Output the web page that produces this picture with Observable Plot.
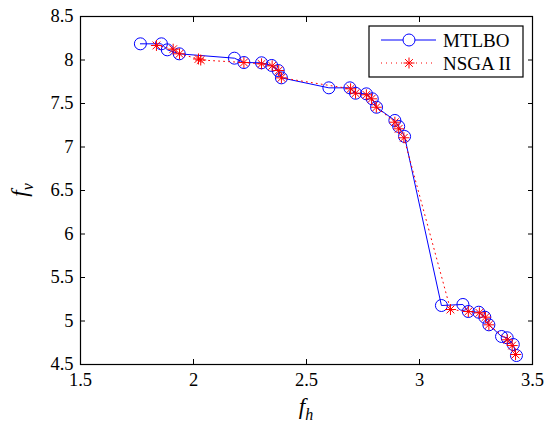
<!DOCTYPE html>
<html><head><meta charset="utf-8">
<script src="https://cdn.jsdelivr.net/npm/d3@7"></script>
<script src="https://cdn.jsdelivr.net/npm/@observablehq/plot@0.6"></script>
<style>body{margin:0;background:#fff} svg text{font-family:"Liberation Serif","Times New Roman","DejaVu Serif",serif !important}</style>
</head><body><div id="chart"></div>
<script>
// MTLBO Pareto front
const mtlboX = [1.765,1.858,1.884,1.937,2.181,2.223,2.301,2.346,2.375,2.389,2.599,2.692,2.717,2.765,2.791,2.810,2.891,2.908,2.934,3.097,3.192,3.216,3.262,3.289,3.307,3.363,3.388,3.415,3.429];
const mtlboY = [8.186,8.186,8.117,8.071,8.021,7.971,7.968,7.937,7.879,7.795,7.680,7.680,7.618,7.611,7.554,7.457,7.305,7.236,7.121,5.178,5.190,5.109,5.101,5.044,4.956,4.822,4.807,4.730,4.603];
// NSGA II Pareto front
const nsgaX = [1.836,1.910,1.938,2.022,2.032,2.223,2.301,2.348,2.377,2.389,2.695,2.717,2.765,2.788,2.809,2.891,2.908,2.931,3.137,3.216,3.265,3.292,3.307,3.388,3.410,3.425];
const nsgaY = [8.167,8.124,8.071,8.012,8.000,7.971,7.956,7.933,7.879,7.795,7.669,7.618,7.600,7.554,7.457,7.285,7.209,7.106,5.132,5.109,5.094,5.044,4.956,4.784,4.718,4.615];
const xTicks = [1.5,2,2.5,3,3.5];
const yTicks = [4.5,5,5.5,6,6.5,7,7.5,8,8.5];
const seriesNames = ["MTLBO","NSGA II"];

const mtlbo = mtlboX.map((x,i)=>({x, y: mtlboY[i]}));
const nsga = nsgaX.map((x,i)=>({x, y: nsgaY[i]}));

// MATLAB-style 8-armed asterisk
const star8 = {
  draw(ctx, size) {
    const r = Math.sqrt(size / Math.PI);
    const d = r * Math.SQRT1_2;
    ctx.moveTo(-r, 0); ctx.lineTo(r, 0);
    ctx.moveTo(0, -r); ctx.lineTo(0, r);
    ctx.moveTo(-d, -d); ctx.lineTo(d, d);
    ctx.moveTo(-d, d); ctx.lineTo(d, -d);
  }
};

const blue = "#0000ff", red = "#ff0000";
const serif = '"Liberation Serif", "Times New Roman", serif';
const fmt = d => String(d);

const plot = Plot.plot({
  width: 545, height: 423,
  marginLeft: 80, marginRight: 13, marginTop: 16, marginBottom: 59,
  style: {fontFamily: serif, fontSize: "18.5px", color: "#000", background: "#fff"},
  x: {domain: [1.5, 3.5]},
  y: {domain: [4.5, 8.5]},
  marks: [
    Plot.line(mtlbo, {x: "x", y: "y", stroke: blue, strokeWidth: 1}),
    Plot.dot(mtlbo, {x: "x", y: "y", r: 6, stroke: blue, strokeWidth: 1, fill: "none"}),
    Plot.line(nsga, {x: "x", y: "y", stroke: red, strokeWidth: 1, strokeDasharray: "1,4"}),
    Plot.dot(nsga, {x: "x", y: "y", r: 5.5, symbol: star8, stroke: red, strokeWidth: 1}),
    Plot.axisX(xTicks, {anchor: "bottom", tickSize: -5, tickPadding: 13, tickFormat: fmt, label: null}),
    Plot.axisX(xTicks, {anchor: "top", tickSize: -5, tickFormat: () => "", label: null}),
    Plot.axisY(yTicks, {anchor: "left", tickSize: -5, tickPadding: 12, tickFormat: fmt, label: null}),
    Plot.axisY(yTicks, {anchor: "right", tickSize: -5, tickFormat: () => "", label: null}),
    Plot.frame({stroke: "#000", strokeWidth: 1.2})
  ]
});
document.getElementById("chart").appendChild(plot);

const svg = d3.select(plot);
svg.selectAll("text").style("font-family", serif);
// axis labels
const xl = svg.append("text").attr("x", 306).attr("y", 414).attr("text-anchor", "middle")
  .style("font-family", serif).style("font-size", "23px");
xl.append("tspan").style("font-style", "italic").text("f");
xl.append("tspan").attr("dy", 6).style("font-style", "italic").style("font-size", "16px").text("h");

const yl = svg.append("text").attr("transform", "translate(27,190) rotate(-90)").attr("text-anchor", "middle")
  .style("font-family", serif).style("font-size", "23px");
yl.append("tspan").style("font-style", "italic").text("f");
yl.append("tspan").attr("dy", 6).style("font-style", "italic").style("font-size", "16px").text("v");

// legend
const lg = svg.append("g");
lg.append("rect").attr("x", 369).attr("y", 26).attr("width", 154).attr("height", 51)
  .attr("fill", "#fff").attr("stroke", "#000").attr("stroke-width", 1.2);
const rows = [
  {name: seriesNames[0], y: 40, color: blue, dash: null},
  {name: seriesNames[1], y: 63, color: red, dash: "1,4"}
];
rows.forEach((r, i) => {
  lg.append("line").attr("x1", 381).attr("x2", 436).attr("y1", r.y).attr("y2", r.y)
    .attr("stroke", r.color).attr("stroke-width", 1).attr("stroke-dasharray", r.dash);
  if (i === 0) {
    lg.append("circle").attr("cx", 409).attr("cy", r.y).attr("r", 6).attr("fill", "#fff").attr("stroke", blue);
  } else {
    lg.append("path").attr("transform", `translate(409,${r.y})`)
      .attr("d", d3.symbol(star8, Math.PI * 5.5 * 5.5)()).attr("stroke", red).attr("fill", "none");
  }
  lg.append("text").attr("x", 443).attr("y", r.y).attr("dy", "0.35em").attr("text-anchor", "start")
    .style("font-family", serif).style("font-size", "19px").text(r.name);
});
</script>
</body></html>
